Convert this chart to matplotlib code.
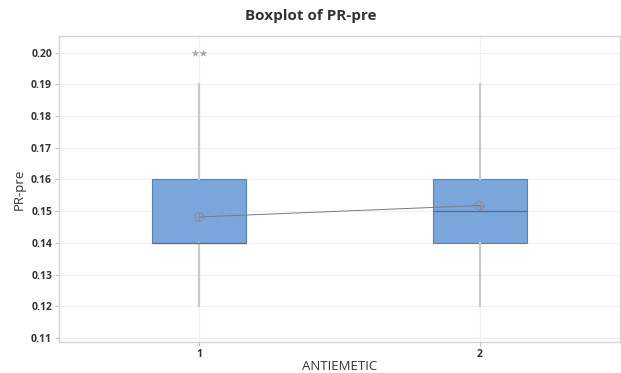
import matplotlib.pyplot as plt
import numpy as np

groups = ["1", "2"]
q1 = [0.14, 0.14]
medians = [0.14, 0.15]
q3 = [0.16, 0.16]
whislo = [0.12, 0.12]
whishi = [0.19, 0.19]
means = [0.1482, 0.1518]
outliers = [[0.20, 0.20], []]
yticks = [0.11, 0.12, 0.13, 0.14, 0.15, 0.16, 0.17, 0.18, 0.19, 0.20]

plt.rcParams['font.family'] = ['Open Sans', 'DejaVu Sans']

fig = plt.figure(figsize=(6.21, 3.73), dpi=100)
ax = fig.add_axes([0.095, 0.083, 0.903, 0.8205])

stats = []
for i, g in enumerate(groups):
    stats.append(dict(label=g, q1=q1[i], med=medians[i], q3=q3[i],
                      whislo=whislo[i], whishi=whishi[i], fliers=[]))

pos = np.arange(1, len(groups) + 1)
ax.bxp(stats, positions=pos, widths=0.335, patch_artist=True,
       showcaps=False, showfliers=False,
       boxprops=dict(facecolor="#7aa6dc", edgecolor="#5b7fae", linewidth=0.8),
       medianprops=dict(color="#4d6e9c", linewidth=0.9),
       whiskerprops=dict(color="#cacaca", linewidth=1.6),
       zorder=3)

# outliers (ties are spread sideways like in Minitab)
for p, vals in zip(pos, outliers):
    n = len(vals)
    offs = (np.arange(n) - (n - 1) / 2) * 0.027
    ax.scatter(p + offs, vals, marker="*", s=24, color="#a8a8a8",
               linewidths=0.3, zorder=4)

# mean connect line
ax.plot(pos, means, color="#7a7a7a", linewidth=0.7, zorder=5)
ax.scatter(pos, means, marker="o", s=40, facecolors="none",
           edgecolors="#8a8a9a", linewidths=0.7, zorder=6)
ax.scatter(pos, means, marker="+", s=40, color="#8a8a9a",
           linewidths=0.7, zorder=6)

ax.set_xlim(0.5, 2.5)
ax.set_ylim(0.1088, 0.2052)
ax.set_yticks(yticks)
ax.set_yticklabels([f"{v:.2f}" for v in yticks])
ax.set_xticks(pos)
ax.set_xticklabels(groups)

ax.grid(True, color="#efefef", linewidth=0.8, zorder=0)
ax.set_axisbelow(True)
for s in ax.spines.values():
    s.set_color("#d4d4d4")
    s.set_linewidth(1.0)

ax.tick_params(axis="both", colors="#b0b0b0", length=3, width=0.6,
               labelsize=7.5, labelcolor="#333333", pad=2)
for lab in ax.get_xticklabels() + ax.get_yticklabels():
    lab.set_fontweight("bold")

ax.set_xlabel("ANTIEMETIC", fontsize=9.5, color="#333333", labelpad=0)
ax.set_ylabel("PR-pre", fontsize=9.5, color="#333333", labelpad=4)
fig.suptitle("Boxplot of PR-pre", x=0.5, y=0.975, fontsize=11,
             fontweight="bold", color="#333333")

fig.savefig("out.png", dpi=100)
